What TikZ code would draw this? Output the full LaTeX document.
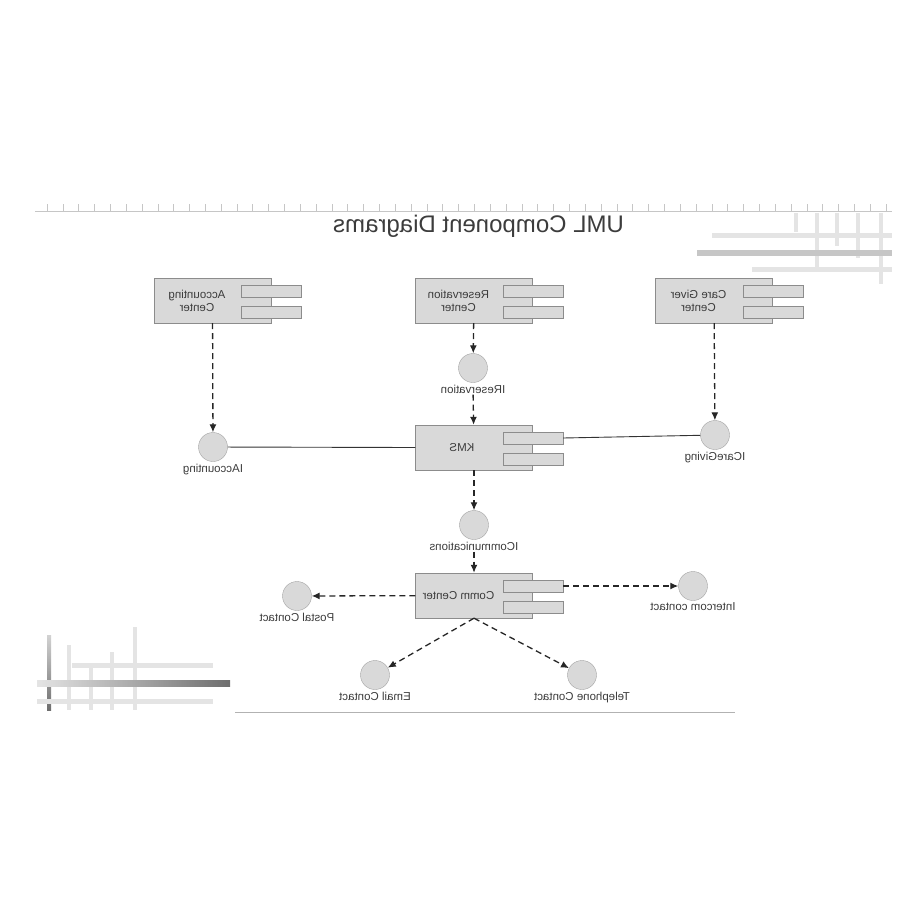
\documentclass[tikz,border=0pt]{standalone}
\usepackage{fontspec}
\setmainfont{Liberation Sans}
\usetikzlibrary{positioning,arrows.meta}
\definecolor{boxgray}{HTML}{D9D9D9}
\definecolor{edgegray}{HTML}{8C8C8C}
\definecolor{txtgray}{HTML}{3C3C3C}
\definecolor{bargray}{HTML}{E4E4E4}
\definecolor{darkbar}{HTML}{6E6E6E}

\begin{document}
\begin{tikzpicture}[x=1pt, y=-1pt,
    comp/.style={draw=edgegray, fill=boxgray, minimum width=117pt, minimum height=45pt, inner sep=0pt},
    port/.style={draw=edgegray, fill=boxgray, minimum width=60pt, minimum height=12pt, inner sep=0pt, anchor=north west},
    iface/.style={circle, draw=edgegray!80, fill=boxgray, minimum size=29pt, inner sep=0pt},
    lbl/.style={xscale=-1, text=txtgray, font=\fontsize{11.5}{13}\selectfont, inner sep=1pt, align=center},
    dep/.style={dash pattern=on 6pt off 4pt, line width=1.3pt, draw=black!85, -{Latex[length=8pt,width=7pt]}},
    wire/.style={line width=0.9pt, draw=black!80}]
  \useasboundingbox (0,0) rectangle (900,900);

  % slide decoration
  \draw[gray!45, line width=0.8pt] (35,211) -- (892,211);
  \foreach \i in {0,...,53}
    \draw[gray!45, line width=0.6pt] ({47+15.83*\i},211) -- ++(0,-7);
  \fill[bargray] (794,213) rectangle (798,232);
  \fill[bargray] (815,213) rectangle (819,267);
  \fill[bargray] (835,213) rectangle (839,246);
  \fill[bargray] (856,213) rectangle (860,258);
  \fill[bargray] (879,213) rectangle (883,284);
  \fill[bargray] (712,232.5) rectangle (892,237.5);
  \fill[gray!45] (697,250) rectangle (892,256);
  \fill[bargray] (752,266.5) rectangle (892,271.5);
  \shade[top color=gray!35, bottom color=darkbar] (47,635) rectangle (51,710);
  \fill[bargray] (67,645) rectangle (71,710);
  \fill[bargray] (89,663) rectangle (93,710);
  \fill[bargray] (110,652) rectangle (114,710);
  \fill[bargray] (133,627) rectangle (137,710);
  \fill[bargray] (72,662.5) rectangle (213,667.5);
  \shade[left color=bargray, right color=darkbar] (37,680) rectangle (230,686);
  \fill[bargray] (37,698.5) rectangle (213,703.5);
  \draw[gray!60, line width=0.8pt] (235,712) -- (735,712);

  \node[xscale=-1, text=txtgray, font=\fontsize{24}{27}\selectfont] (title) at (478.5,226) {UML Component Diagrams};

  % components
  \node[comp] (acc) at (212.5,300.5) {};
  \node[comp] (res) at (474,300.5) {};
  \node[comp] (care) at (714,300.5) {};
  \node[comp] (kms) at (474,447.5) {};
  \node[comp] (comm) at (474,595.5) {};
  \foreach \n in {acc,res,care,kms,comm}{
    \node[port] (\n-p1) at ([xshift=-30pt,yshift=-7pt]\n.north east) {};
    \node[port] (\n-p2) at ([xshift=-30pt,yshift=-28pt]\n.north east) {};
  }
  \node[lbl] at ([xshift=-15.5pt]acc.center) {Accounting\\Center};
  \node[lbl] at ([xshift=-15.5pt]res.center) {Reservation\\Center};
  \node[lbl] at ([xshift=-15.5pt]care.center) {Care Giver\\Center};
  \node[lbl] at ([xshift=-12pt]kms.center) {KMS};
  \node[lbl] at ([xshift=-15.5pt]comm.center) {Comm Center};

  % interfaces
  \node[iface] (iacc) at (213,447) {};
  \node[iface] (ires) at (473,368) {};
  \node[iface] (icare) at (715,435) {};
  \node[iface] (icom) at (474,525) {};
  \node[iface] (ipost) at (297,596) {};
  \node[iface] (iint) at (693,586) {};
  \node[iface] (imail) at (375,675) {};
  \node[iface] (itel) at (582,675) {};
  \node[lbl, below=1pt of iacc] (lacc) {IAccounting};
  \node[lbl, below=1pt of ires] (lres) {IReservation};
  \node[lbl, below=1pt of icare] (lcare) {ICareGiving};
  \node[lbl, below=1pt of icom] (lcom) {ICommunications};
  \node[lbl, below=1pt of ipost] (lpost) {Postal Contact};
  \node[lbl, below=1pt of iint] (lint) {Intercom contact};
  \node[lbl, below=1pt of imail] (lmail) {Email Contact};
  \node[lbl, below=1pt of itel] (ltel) {Telephone Contact};

  % connectors
  \draw[dep] (acc) -- (iacc);
  \draw[dep] (res) -- (ires);
  \draw[dep] (lres) -- (kms);
  \draw[dep] (care) -- (icare);
  \draw[dep] (kms) -- (icom);
  \draw[dep] (lcom) -- (comm);
  \draw[dep] (comm) -- (ipost);
  \draw[dep] (comm-p1.east) -- (iint);
  \draw[dep] (comm.south) -- (imail);
  \draw[dep] (comm.south) -- (itel);
  \draw[wire] (iacc) -- (kms.west);
  \draw[wire] (kms-p1.east) -- (icare);
\end{tikzpicture}
\end{document}
